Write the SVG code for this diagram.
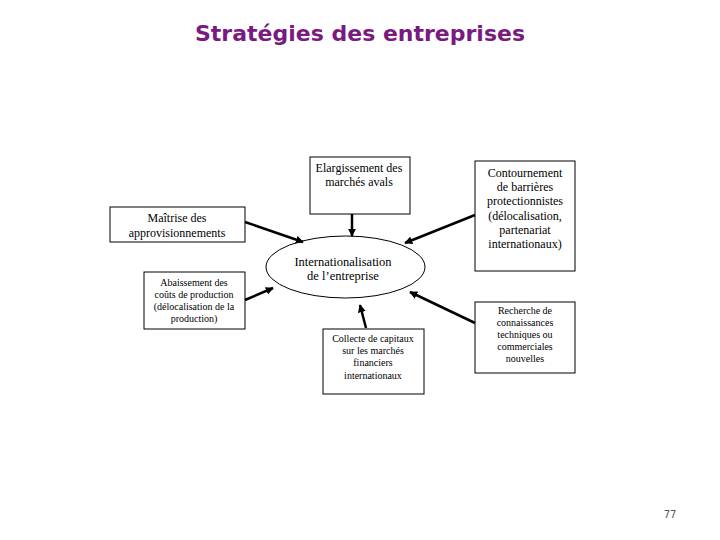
<svg xmlns="http://www.w3.org/2000/svg" width="720" height="540" viewBox="0 0 720 540">
<style>
.b{fill:#fff;stroke:#000;stroke-width:1}
.t{font-family:"Liberation Serif",serif;fill:#000;text-anchor:middle}
.c line{stroke:#000;stroke-width:2.5;marker-end:url(#a)}
</style>
<defs><marker id="a" viewBox="0 0 10 10" refX="9" refY="5" markerWidth="3.2" markerHeight="3.2" orient="auto" markerUnits="strokeWidth"><path d="M0,0L10,5L0,10z" fill="#000"/></marker></defs>
<rect width="720" height="540" fill="#fff"/>
<text x="360" y="41" font-family="'DejaVu Sans',sans-serif" font-weight="bold" font-size="22" fill="#7a1a7f" text-anchor="middle">Stratégies des entreprises</text>
<g id="center"><ellipse cx="345.5" cy="267" rx="79.5" ry="31" class="b"/>
<text class="t" font-size="12.5"><tspan x="343" y="266">Internationalisation</tspan><tspan x="343" y="280">de l’entreprise</tspan></text></g>
<g id="elarg"><rect x="310" y="157" width="100" height="57" class="b"/>
<text class="t" font-size="12"><tspan x="359" y="172">Elargissement des</tspan><tspan x="359" y="186">marchés avals</tspan></text></g>
<g id="maitrise"><rect x="110" y="207" width="135" height="35" class="b"/>
<text class="t" font-size="12"><tspan x="177" y="222">Maîtrise des</tspan><tspan x="177" y="237">approvisionnements</tspan></text></g>
<g id="abais"><rect x="144" y="272" width="101" height="57" class="b"/>
<text class="t" font-size="10"><tspan x="194" y="286">Abaissement des</tspan><tspan x="194" y="298">coûts de production</tspan><tspan x="194" y="310">(délocalisation de la</tspan><tspan x="194" y="322">production)</tspan></text></g>
<g id="contour"><rect x="475" y="161" width="100" height="110" class="b"/>
<text class="t" font-size="12"><tspan x="525" y="177">Contournement</tspan><tspan x="525" y="191">de barrières</tspan><tspan x="525" y="205">protectionnistes</tspan><tspan x="525" y="220">(délocalisation,</tspan><tspan x="525" y="234">partenariat</tspan><tspan x="525" y="248">internationaux)</tspan></text></g>
<g id="recherche"><rect x="475" y="302" width="100" height="71" class="b"/>
<text class="t" font-size="10"><tspan x="525" y="314">Recherche de</tspan><tspan x="525" y="326">connaissances</tspan><tspan x="525" y="338">techniques ou</tspan><tspan x="525" y="350">commerciales</tspan><tspan x="525" y="362">nouvelles</tspan></text></g>
<g id="collecte"><rect x="323" y="329" width="101" height="65" class="b"/>
<text class="t" font-size="10"><tspan x="373" y="342">Collecte de capitaux</tspan><tspan x="373" y="354">sur les marchés</tspan><tspan x="373" y="366">financiers</tspan><tspan x="373" y="379">internationaux</tspan></text></g>
<g id="connectors" class="c">
<line x1="245" y1="222" x2="303" y2="242"/>
<line x1="352" y1="214" x2="352" y2="236"/>
<line x1="475" y1="215" x2="405" y2="243"/>
<line x1="245" y1="300" x2="273" y2="288"/>
<line x1="366" y1="328" x2="360" y2="305"/>
<line x1="475" y1="323" x2="410" y2="292"/>
</g>
<text x="670" y="518" font-family="'DejaVu Sans',sans-serif" font-size="10" fill="#555" text-anchor="middle">77</text>
</svg>
